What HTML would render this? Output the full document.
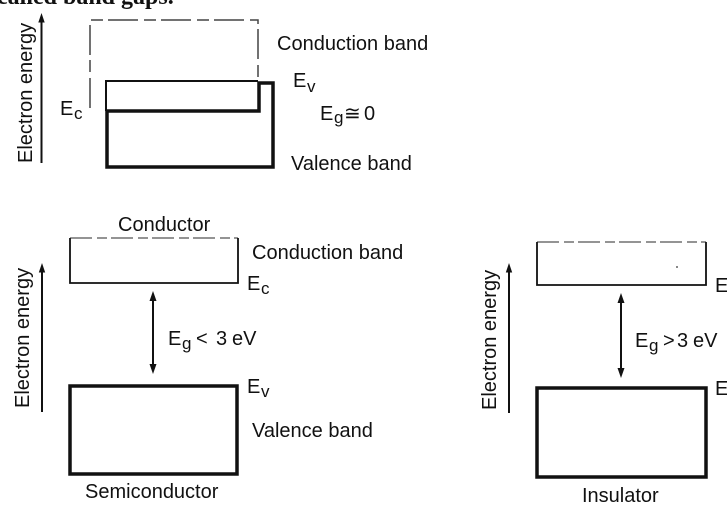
<!DOCTYPE html>
<html><head><meta charset="utf-8"><style>
html,body{margin:0;padding:0;background:#fff;}
svg{display:block;}
text{font-family:"Liberation Sans",sans-serif;font-size:20px;fill:#111;}
.sub{font-size:17px;}
</style></head><body>
<svg width="727" height="509" viewBox="0 0 727 509" xmlns="http://www.w3.org/2000/svg">
<!-- cut-off heading -->
<text x="-3" y="4" style="font-family:'Liberation Serif',serif;font-size:24px;font-weight:bold">called band gaps.</text>

<!-- ===== TOP: Conductor ===== -->
<line x1="41.5" y1="163" x2="41.5" y2="20" stroke="#111" stroke-width="2"/>
<polygon points="41.5,13 38.3,22.5 44.7,22.5" fill="#111"/>
<text transform="translate(32,163) rotate(-90)">Electron energy</text>

<path d="M90,108 V20 H258 V80" fill="none" stroke="#444" stroke-width="1.5" stroke-dasharray="30 6 12 5"/>
<path d="M106,111 V81 H258" fill="none" stroke="#111" stroke-width="2"/>
<path d="M107,111 H259 V83 H273 V167 H107 Z" fill="none" stroke="#111" stroke-width="3.5"/>

<text x="277" y="50">Conduction band</text>
<text x="293" y="87">E</text><text class="sub" x="307" y="92">v</text>
<text x="60" y="115">E</text><text class="sub" x="74" y="119">c</text>
<text x="320" y="120">E</text><text class="sub" x="334" y="123">g</text>
<text x="344" y="120">≅</text><text x="364" y="120">0</text>
<text x="291" y="170">Valence band</text>

<!-- ===== BOTTOM LEFT: Semiconductor ===== -->
<text x="118" y="231">Conductor</text>
<line x1="42" y1="412" x2="42" y2="270" stroke="#111" stroke-width="2"/>
<polygon points="42,263 38.8,272.5 45.2,272.5" fill="#111"/>
<text transform="translate(29,408) rotate(-90)">Electron energy</text>

<path d="M70,238 H238" fill="none" stroke="#555" stroke-width="1.3" stroke-dasharray="22 5 10 4"/>
<path d="M70,238 V283 H238 V238" fill="none" stroke="#111" stroke-width="1.8"/>
<text x="252" y="259">Conduction band</text>
<text x="247" y="290">E</text><text class="sub" x="261" y="294">c</text>

<line x1="153" y1="298" x2="153" y2="367" stroke="#111" stroke-width="2"/>
<polygon points="153,291 149.5,301 156.5,301" fill="#111"/>
<polygon points="153,374 149.5,364 156.5,364" fill="#111"/>
<text x="168" y="345">E</text><text class="sub" x="182" y="349">g</text>
<text x="196" y="345">&lt;</text><text x="216" y="345">3</text><text x="232" y="345">eV</text>

<rect x="70" y="386" width="167" height="88" fill="none" stroke="#111" stroke-width="3.5"/>
<text x="247" y="393">E</text><text class="sub" x="261" y="397">v</text>
<text x="252" y="437">Valence band</text>
<text x="85" y="498">Semiconductor</text>

<!-- ===== BOTTOM RIGHT: Insulator ===== -->
<line x1="509" y1="413" x2="509" y2="270" stroke="#111" stroke-width="2"/>
<polygon points="509,263 505.8,272.5 512.2,272.5" fill="#111"/>
<text transform="translate(496,410) rotate(-90)">Electron energy</text>

<path d="M537,242 H706" fill="none" stroke="#555" stroke-width="1.3" stroke-dasharray="22 5 10 4"/>
<path d="M537,242 V285 H706 V242" fill="none" stroke="#111" stroke-width="1.8"/>
<circle cx="677" cy="267" r="0.9" fill="#333"/>
<text x="715" y="292">E</text>

<line x1="621" y1="300" x2="621" y2="371" stroke="#111" stroke-width="2"/>
<polygon points="621,293 617.5,303 624.5,303" fill="#111"/>
<polygon points="621,378 617.5,368 624.5,368" fill="#111"/>
<text x="635" y="347">E</text><text class="sub" x="649" y="351">g</text>
<text x="663" y="347">&gt;</text><text x="677" y="347">3</text><text x="693" y="347">eV</text>

<rect x="537" y="388" width="169" height="89" fill="none" stroke="#111" stroke-width="3.5"/>
<text x="715" y="395">E</text>
<text x="582" y="502">Insulator</text>
</svg>
</body></html>
